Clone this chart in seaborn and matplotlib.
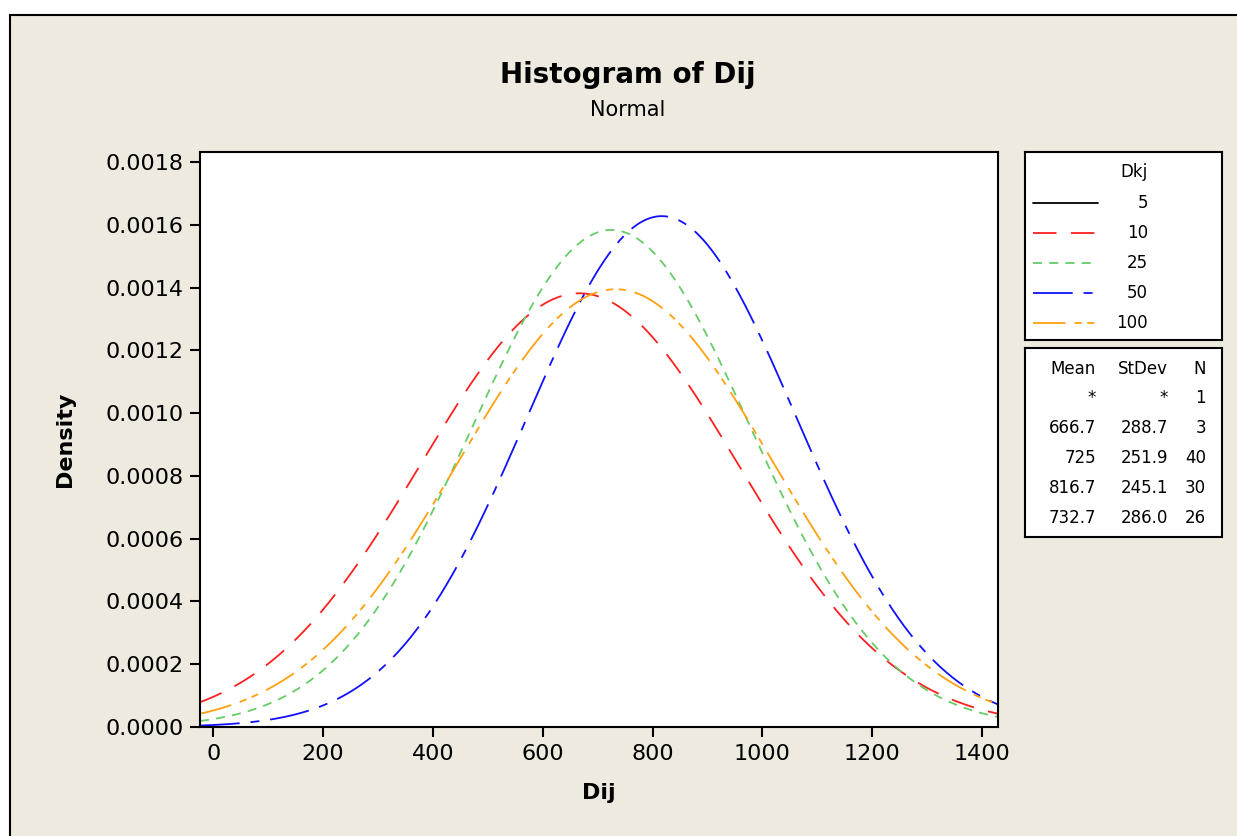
import numpy as np
import pandas as pd
import matplotlib.pyplot as plt
import seaborn as sns
from matplotlib.patches import Rectangle
from matplotlib.lines import Line2D

# Fitted normal parameters per Dkj group (Minitab summary table)
dkj = ['5', '10', '25', '50', '100']
means = [np.nan, 666.7, 725.0, 816.7, 732.7]
stdevs = [np.nan, 288.7, 251.9, 245.1, 286.0]
counts = [1, 3, 40, 30, 26]
mean_txt = ['*', '666.7', '725', '816.7', '732.7']
std_txt = ['*', '288.7', '251.9', '245.1', '286.0']

colors = {'5': 'black', '10': '#FF2020', '25': '#66CC66', '50': '#1010FF', '100': '#FFA010'}
dashes = {'5': '', '10': (13, 8), '25': (5, 4), '50': (22, 6, 5, 6), '100': (18, 5, 4, 3, 4, 5)}

# normal fit curves, one per group (group 5 has N=1 -> no curve)
xs = np.linspace(-24, 1429, 400)
rows = []
for g, m, s in zip(dkj, means, stdevs):
    if np.isnan(m):
        continue
    pdf = np.exp(-0.5 * ((xs - m) / s) ** 2) / (s * np.sqrt(2 * np.pi))
    rows.append(pd.DataFrame({'Dij': xs, 'Density': pdf, 'Dkj': g}))
df = pd.concat(rows, ignore_index=True)

sns.set_theme(style='white')
plt.rcParams['font.family'] = ['DejaVu Sans']

bg = '#EEEAE0'
fig = plt.figure(figsize=(12.37, 8.36), dpi=100)
fig.patch.set_facecolor('white')
fig.patches.append(Rectangle((10 / 1237, -0.1), 1.2, 1 - 15 / 836 + 0.1, transform=fig.transFigure,
                             facecolor=bg, edgecolor='black', linewidth=1.5, zorder=-10))

ax = fig.add_axes([200 / 1237, 1 - 727 / 836, 798 / 1237, 575 / 836])
sns.lineplot(data=df, x='Dij', y='Density', hue='Dkj', style='Dkj',
             palette={k: colors[k] for k in dkj[1:]},
             dashes={k: dashes[k] for k in dkj[1:]},
             linewidth=1.3, legend=False, ax=ax)
ax.set_facecolor('white')
ax.set_xlim(-24, 1429)
ax.set_ylim(0, 0.001832)
ax.set_xticks(np.arange(0, 1401, 200))
ax.set_yticks(np.arange(0, 0.00181, 0.0002))
ax.set_yticklabels([f'{v:.4f}' for v in np.arange(0, 0.00181, 0.0002)])
ax.tick_params(axis='both', direction='out', length=7, width=1.5, color='black',
               labelsize=16, labelcolor='black', bottom=True, left=True, pad=5)
for sp in ax.spines.values():
    sp.set_color('black')
    sp.set_linewidth(1.5)
ax.set_xlabel('Dij', fontsize=16, fontweight='bold', color='black', labelpad=14)
ax.set_ylabel('Density', fontsize=16, fontweight='bold', color='black', labelpad=22)

fig.text(628 / 1237, 1 - 75 / 836, 'Histogram of Dij', ha='center', va='center',
         fontsize=20, fontweight='bold', color='black')
fig.text(628 / 1237, 1 - 110 / 836, 'Normal', ha='center', va='center',
         fontsize=15, color='black')

W, H = 1237, 836


def box(x0, y0, x1, y1):
    a = fig.add_axes([x0 / W, 1 - y1 / H, (x1 - x0) / W, (y1 - y0) / H])
    a.set_xlim(x0, x1)
    a.set_ylim(y1, y0)
    a.set_xticks([])
    a.set_yticks([])
    a.set_facecolor('white')
    for sp in a.spines.values():
        sp.set_color('black')
        sp.set_linewidth(1.5)
        sp.set_visible(True)
    return a


# legend of line styles
lg = box(1025, 152, 1222, 340)
lg.text(1148, 172, 'Dkj', ha='right', va='center', fontsize=12, color='black')
for i, g in enumerate(dkj):
    y = 203 + i * 30
    ln = Line2D([1033, 1098], [y, y], color=colors[g], linewidth=1.3)
    if dashes[g]:
        ln.set_dashes(dashes[g])
    lg.add_line(ln)
    lg.text(1148, y, g, ha='right', va='center', fontsize=12, color='black')

# summary table
tb = box(1025, 348, 1222, 537)
tb.text(1096, 369, 'Mean', ha='right', va='center', fontsize=12, color='black')
tb.text(1168, 369, 'StDev', ha='right', va='center', fontsize=12, color='black')
tb.text(1206, 369, 'N', ha='right', va='center', fontsize=12, color='black')
for i in range(len(dkj)):
    y = 398 + i * 30
    tb.text(1096, y, mean_txt[i], ha='right', va='center', fontsize=12, color='black')
    tb.text(1168, y, std_txt[i], ha='right', va='center', fontsize=12, color='black')
    tb.text(1206, y, str(counts[i]), ha='right', va='center', fontsize=12, color='black')

fig.savefig('out.png', dpi=100, facecolor=fig.get_facecolor())
